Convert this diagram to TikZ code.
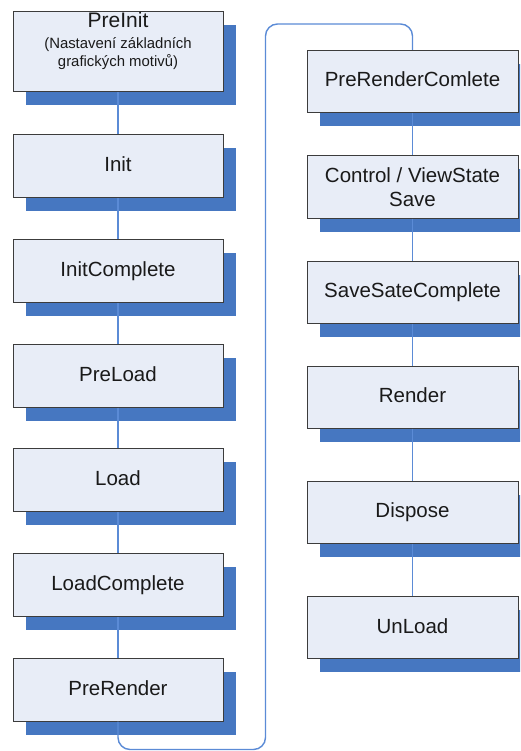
\documentclass[tikz,border=0pt]{standalone}
\usepackage{fontspec}
\setmainfont{Liberation Sans}
\usetikzlibrary{shadows}
\definecolor{boxfill}{HTML}{E8EDF7}
\definecolor{boxline}{HTML}{3C3C3C}
\definecolor{shadowblue}{HTML}{4677C1}
\definecolor{flowblue}{HTML}{5B8BD6}
\definecolor{txt}{HTML}{1A1A1A}
\tikzset{
  stage/.style={draw=boxline, line width=1pt, fill=boxfill, rectangle,
    inner sep=0pt, text=txt, align=center,
    font=\fontsize{20.5}{23.5}\selectfont,
    text height=15pt, text depth=4pt,
    drop shadow={shadow xshift=12.5pt, shadow yshift=-13.5pt,
      fill=shadowblue, opacity=1}},
  leftstage/.style={stage, minimum width=210pt, minimum height=63pt},
  rightstage/.style={stage, minimum width=211pt, minimum height=62pt},
  flow/.style={draw=flowblue, line width=1.4pt},
  note/.style={text=txt, inner sep=0pt, anchor=base}
}
\begin{document}
\begin{tikzpicture}[x=1pt, y=-1pt]
  \useasboundingbox (0,0) rectangle (520,751);
  \clip (0,0) rectangle (520,751);

  % left column
  \node[leftstage, minimum height=80pt] (preinit) at (118,52) {};
  \node[note, font=\fontsize{21}{21}\selectfont] (preinitT) at (118,28) {PreInit};
  \node[note, font=\fontsize{14.9}{14.9}\selectfont] (preinitA) at (118,49) {(Nastavení základních};
  \node[note, font=\fontsize{14.9}{14.9}\selectfont] (preinitB) at (118,67) {grafických motivů)};

  \node[leftstage] (init)      at (118,166.5) {Init};
  \node[leftstage] (initc)     at (118,271.1) {InitComplete};
  \node[leftstage] (preload)   at (118,375.7) {PreLoad};
  \node[leftstage] (load)      at (118,480.3) {Load};
  \node[leftstage] (loadc)     at (118,584.9) {LoadComplete};
  \node[leftstage] (prerender) at (118,689.5) {PreRender};

  % right column
  \node[rightstage] (prerc)  at (412.5,81.5) {PreRenderComlete};
  \node[rightstage, text height=, text depth=] (vsave) at (412.5,187) {Control / ViewState\\Save};
  \node[rightstage] (savec)  at (412.5,292) {SaveSateComplete};
  \node[rightstage] (render) at (412.5,397) {Render};
  \node[rightstage] (dispose) at (412.5,512) {Dispose};
  \node[rightstage] (unload) at (412.5,627.5) {UnLoad};

  % connectors
  \draw[flow] (preinit.south) -- (init.north);
  \draw[flow] (init.south) -- (initc.north);
  \draw[flow] (initc.south) -- (preload.north);
  \draw[flow] (preload.south) -- (load.north);
  \draw[flow] (load.south) -- (loadc.north);
  \draw[flow] (loadc.south) -- (prerender.north);

  \coordinate (loopbl) at (118,749.5);
  \coordinate (loopbr) at (265.5,749.5);
  \coordinate (looptl) at (265.5,24);
  \coordinate (looptr) at (412.5,24);
  \draw[flow, rounded corners=12pt] (prerender.south) -- (loopbl) -- (loopbr)
    -- (looptl) -- (looptr) -- (prerc.north);

  \draw[flow] (prerc.south) -- (vsave.north);
  \draw[flow] (vsave.south) -- (savec.north);
  \draw[flow] (savec.south) -- (render.north);
  \draw[flow] (render.south) -- (dispose.north);
  \draw[flow] (dispose.south) -- (unload.north);
\end{tikzpicture}
\end{document}
